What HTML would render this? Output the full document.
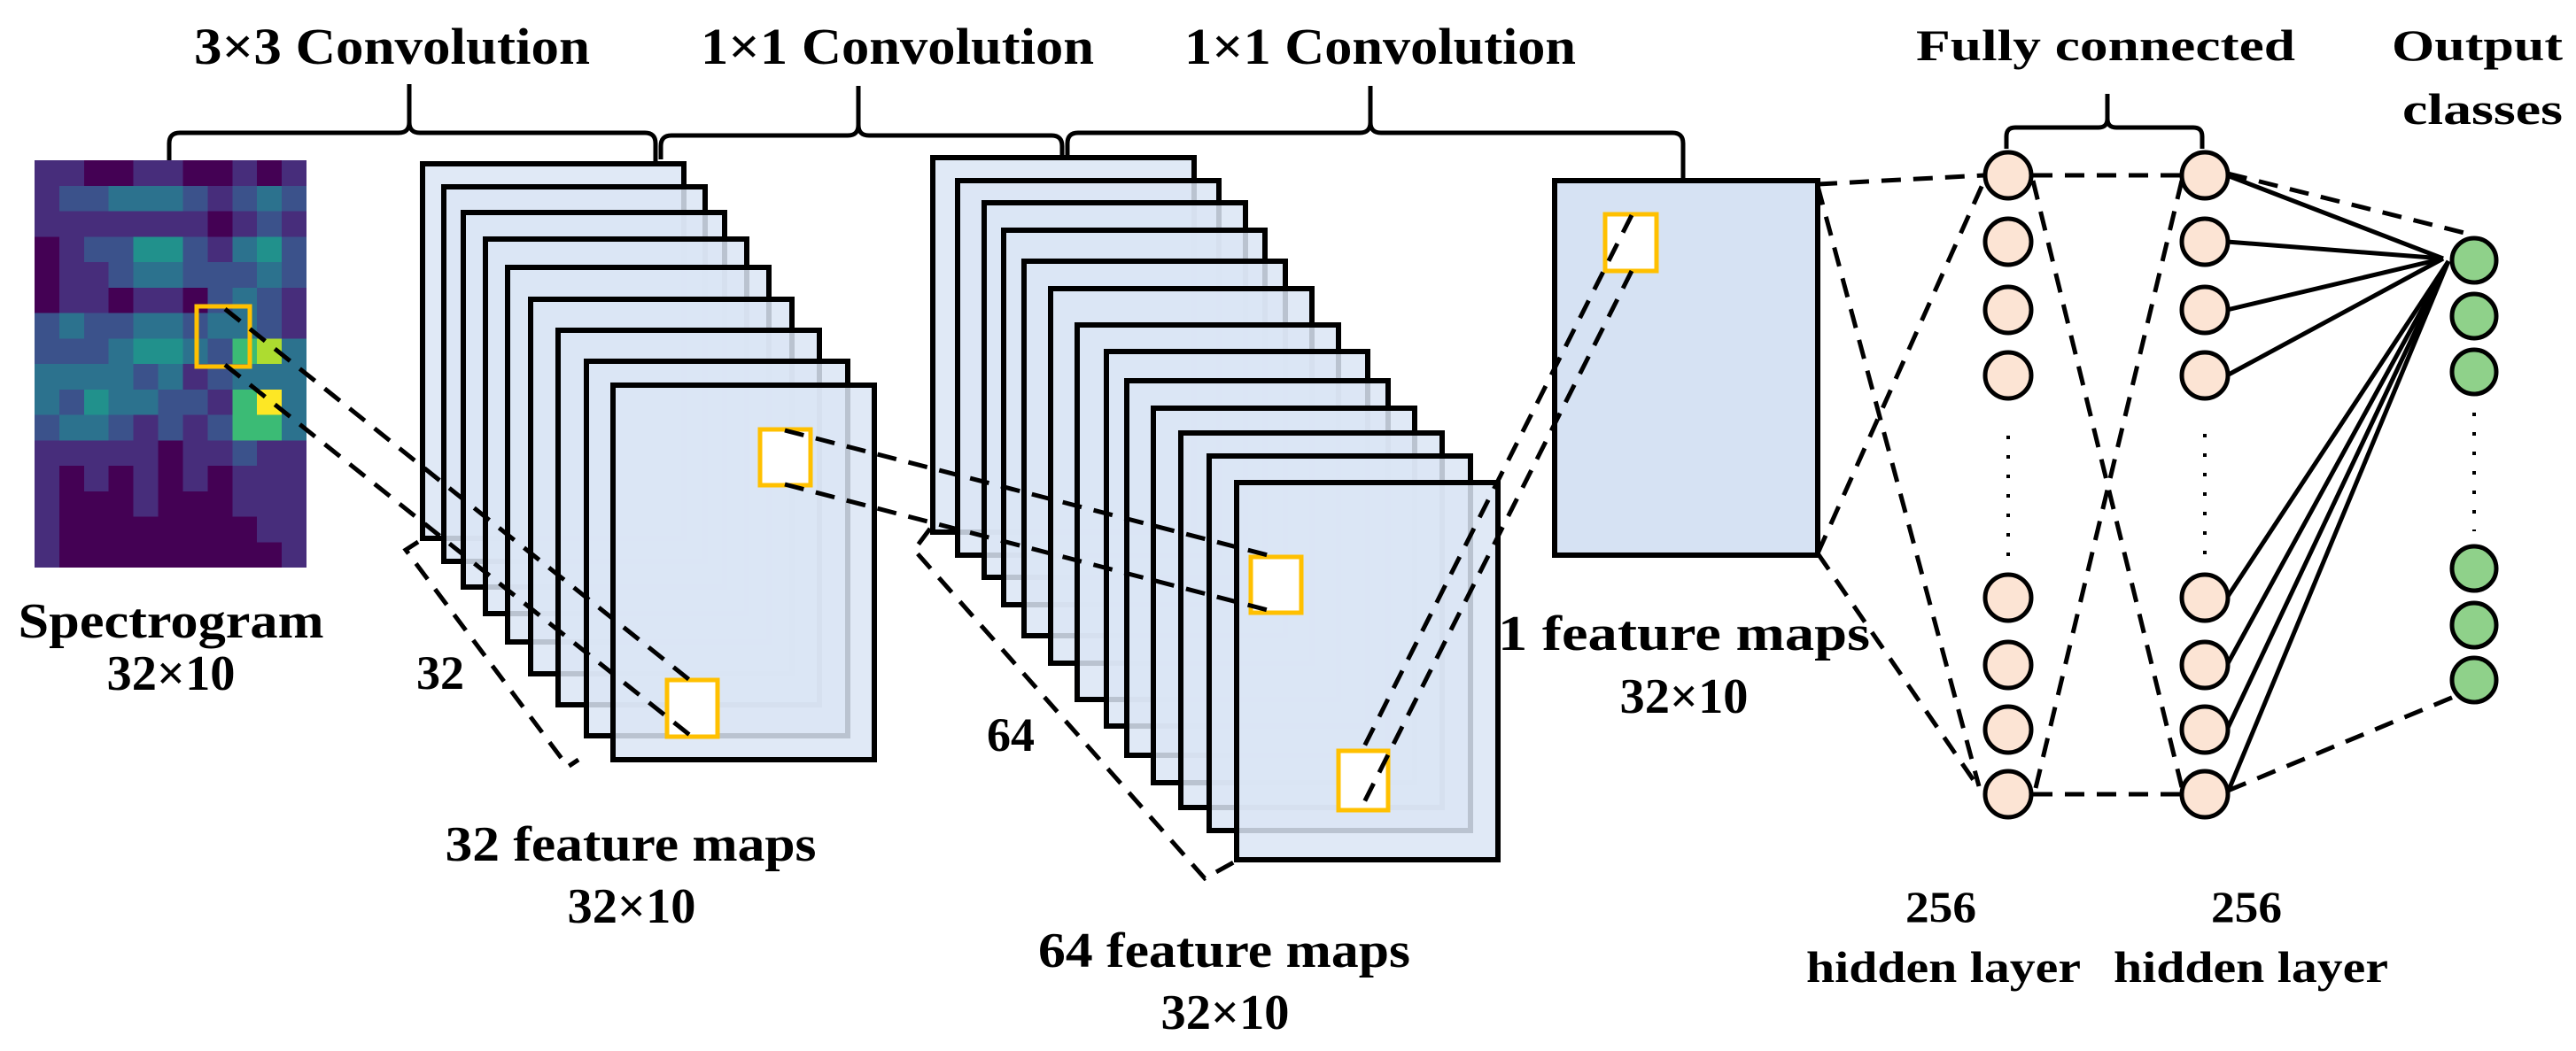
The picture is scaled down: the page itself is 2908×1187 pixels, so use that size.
<!DOCTYPE html>
<html><head><meta charset="utf-8">
<style>html,body{margin:0;padding:0;background:#fff}svg{display:block}
text{font-family:"Liberation Serif",serif;font-weight:bold;fill:#000}</style></head>
<body>
<svg width="2908" height="1187" viewBox="0 0 2908 1187" xmlns="http://www.w3.org/2000/svg">
<!-- titles -->
<text x="219" y="72" font-size="58" textLength="447" lengthAdjust="spacingAndGlyphs">3×3 Convolution</text>
<text x="791" y="72" font-size="58" textLength="444" lengthAdjust="spacingAndGlyphs">1×1 Convolution</text>
<text x="1337" y="72" font-size="58" textLength="442" lengthAdjust="spacingAndGlyphs">1×1 Convolution</text>
<text x="2163" y="68" font-size="50" textLength="428" lengthAdjust="spacingAndGlyphs">Fully connected</text>
<text x="2700" y="68" font-size="50" textLength="193" lengthAdjust="spacingAndGlyphs">Output</text>
<text x="2712" y="140" font-size="50" textLength="181" lengthAdjust="spacingAndGlyphs">classes</text>

<!-- braces -->
<g fill="none" stroke="#000" stroke-width="5">
<path d="M191,182 L191,162 Q191,150 203,150 L450,150 Q462,150 462,138 L462,95 L462,138 Q462,150 474,150 L728,150 Q740,150 740,162 L740,183"/>
<path d="M746,180 L746,165 Q746,153 758,153 L957,153 Q969,153 969,141 L969,97 L969,141 Q969,153 981,153 L1187,153 Q1199,153 1199,165 L1199,178"/>
<path d="M1205,178 L1205,162 Q1205,150 1217,150 L1535,150 Q1547,150 1547,138 L1547,97 L1547,138 Q1547,150 1559,150 L1888,150 Q1900,150 1900,162 L1900,204"/>
<path d="M2265,168 L2265,154 Q2265,144 2275,144 L2369,144 Q2379,144 2379,134 L2379,106 L2379,134 Q2379,144 2389,144 L2476,144 Q2486,144 2486,154 L2486,168"/>
</g>

<!-- spectrogram -->
<svg x="39" y="181" width="307" height="460" viewBox="0 0 11 16" preserveAspectRatio="none" shape-rendering="crispEdges">
<style>.a{fill:#440154}.c{fill:#3b528b}.d{fill:#2c728e}.e{fill:#21918c}.f{fill:#3bbb75}.g{fill:#addc30}.h{fill:#fde725}</style>
<rect width="11" height="16" fill="#472d7b"/>
<rect class="a" x="2" y="0" width="2" height="1"/><rect class="a" x="6" y="0" width="2" height="1"/><rect class="a" x="9" y="0" width="1" height="1"/>
<rect class="c" x="1" y="1" width="2" height="1"/><rect class="d" x="3" y="1" width="3" height="1"/><rect class="c" x="6" y="1" width="1" height="1"/><rect class="c" x="8" y="1" width="1" height="1"/><rect class="d" x="9" y="1" width="1" height="1"/><rect class="c" x="10" y="1" width="1" height="1"/>
<rect class="a" x="7" y="2" width="1" height="1"/><rect class="c" x="9" y="2" width="1" height="1"/>
<rect class="a" x="0" y="3" width="1" height="3"/><rect class="c" x="2" y="3" width="2" height="1"/><rect class="e" x="4" y="3" width="2" height="1"/><rect class="c" x="6" y="3" width="1" height="1"/><rect class="d" x="8" y="3" width="1" height="1"/><rect class="e" x="9" y="3" width="1" height="1"/><rect class="c" x="10" y="3" width="1" height="1"/>
<rect class="c" x="3" y="4" width="1" height="1"/><rect class="d" x="4" y="4" width="2" height="1"/><rect class="c" x="6" y="4" width="3" height="1"/><rect class="d" x="9" y="4" width="1" height="1"/><rect class="c" x="10" y="4" width="1" height="1"/>
<rect class="a" x="3" y="5" width="1" height="1"/><rect class="a" x="6" y="5" width="1" height="1"/><rect class="c" x="7" y="5" width="1" height="1"/><rect class="d" x="8" y="5" width="1" height="1"/><rect class="c" x="9" y="5" width="1" height="1"/>
<rect class="c" x="0" y="6" width="1" height="1"/><rect class="d" x="1" y="6" width="1" height="1"/><rect class="c" x="2" y="6" width="2" height="1"/><rect class="d" x="4" y="6" width="2" height="1"/><rect class="c" x="6" y="6" width="1" height="1"/><rect class="d" x="7" y="6" width="2" height="1"/><rect class="c" x="9" y="6" width="1" height="1"/>
<rect class="c" x="0" y="7" width="3" height="1"/><rect class="d" x="3" y="7" width="1" height="1"/><rect class="e" x="4" y="7" width="2" height="1"/><rect class="d" x="6" y="7" width="1" height="1"/><rect class="c" x="7" y="7" width="1" height="1"/><rect class="f" x="8" y="7" width="1" height="1"/><rect class="g" x="9" y="7" width="1" height="1"/><rect class="d" x="10" y="7" width="1" height="1"/>
<rect class="d" x="0" y="8" width="4" height="1"/><rect class="c" x="4" y="8" width="1" height="1"/><rect class="d" x="5" y="8" width="1" height="1"/><rect class="c" x="7" y="8" width="1" height="1"/><rect class="d" x="8" y="8" width="3" height="1"/>
<rect class="d" x="0" y="9" width="1" height="1"/><rect class="c" x="1" y="9" width="1" height="1"/><rect class="e" x="2" y="9" width="1" height="1"/><rect class="d" x="3" y="9" width="2" height="1"/><rect class="c" x="5" y="9" width="2" height="1"/><rect class="f" x="8" y="9" width="1" height="1"/><rect class="h" x="9" y="9" width="1" height="1"/><rect class="d" x="10" y="9" width="1" height="1"/>
<rect class="c" x="0" y="10" width="1" height="1"/><rect class="d" x="1" y="10" width="2" height="1"/><rect class="c" x="3" y="10" width="1" height="1"/><rect class="c" x="5" y="10" width="1" height="1"/><rect class="c" x="7" y="10" width="1" height="1"/><rect class="f" x="8" y="10" width="2" height="1"/><rect class="d" x="10" y="10" width="1" height="1"/>
<rect class="a" x="5" y="11" width="1" height="1"/><rect class="c" x="8" y="11" width="1" height="1"/>
<rect class="a" x="1" y="12" width="1" height="1"/><rect class="a" x="3" y="12" width="1" height="1"/><rect class="a" x="5" y="12" width="1" height="1"/><rect class="a" x="7" y="12" width="1" height="1"/>
<rect class="a" x="1" y="13" width="3" height="1"/><rect class="a" x="5" y="13" width="3" height="1"/>
<rect class="a" x="1" y="14" width="8" height="1"/>
<rect class="a" x="1" y="15" width="9" height="1"/>
</svg>
<rect x="222" y="346" width="60" height="68" fill="none" stroke="#ffc000" stroke-width="5"/>

<!-- stack 1 -->
<g fill="#dbe5f4" fill-opacity="0.85" stroke="#000" stroke-width="6">
<rect x="477" y="185" width="295" height="423"/>
<rect x="501" y="211" width="295" height="423"/>
<rect x="523" y="240" width="295" height="423"/>
<rect x="548" y="270" width="295" height="423"/>
<rect x="573" y="302" width="295" height="423"/>
<rect x="599" y="338" width="295" height="423"/>
<rect x="630" y="373" width="295" height="423"/>
<rect x="662" y="408" width="295" height="423"/>
<rect x="692" y="435" width="295" height="423"/>
</g>
<rect x="858" y="485" width="57" height="63" fill="#fff" stroke="#ffc000" stroke-width="5"/>
<rect x="753" y="768" width="57" height="64" fill="#fff" stroke="#ffc000" stroke-width="5"/>
<g fill="none" stroke="#000" stroke-width="5" stroke-dasharray="22,14">
<line x1="254" y1="349" x2="781" y2="770"/>
<line x1="254" y1="412" x2="781" y2="832"/>
<polyline points="472,612 458,621 641,866 653,858"/>
</g>
<text x="470" y="778" font-size="54">32</text>

<!-- stack 2 -->
<g fill="#dbe5f4" fill-opacity="0.85" stroke="#000" stroke-width="6">
<rect x="1053" y="178" width="295" height="423"/>
<rect x="1081" y="204" width="295" height="423"/>
<rect x="1111" y="229" width="295" height="423"/>
<rect x="1133" y="260" width="295" height="423"/>
<rect x="1156" y="295" width="295" height="423"/>
<rect x="1186" y="326" width="295" height="423"/>
<rect x="1216" y="367" width="295" height="423"/>
<rect x="1249" y="397" width="295" height="423"/>
<rect x="1272" y="430" width="295" height="423"/>
<rect x="1302" y="461" width="295" height="423"/>
<rect x="1333" y="489" width="295" height="423"/>
<rect x="1365" y="515" width="295" height="423"/>
<rect x="1396" y="545" width="295" height="426"/>
</g>
<rect x="1412" y="629" width="57" height="63" fill="#fff" stroke="#ffc000" stroke-width="5"/>
<rect x="1511" y="848" width="56" height="67" fill="#fff" stroke="#ffc000" stroke-width="5"/>
<g fill="none" stroke="#000" stroke-width="5" stroke-dasharray="22,14">
<line x1="886" y1="486" x2="1435" y2="628"/>
<line x1="886" y1="547" x2="1435" y2="690"/>
<polyline points="1050,597 1032,621 1360,992 1396,972"/>
</g>
<text x="1114" y="848" font-size="54" textLength="54" lengthAdjust="spacingAndGlyphs">64</text>

<!-- single map -->
<rect x="1755" y="204" width="297" height="423" fill="#d6e2f3" stroke="#000" stroke-width="6"/>
<rect x="1812" y="242" width="58" height="64" fill="#fff" stroke="#ffc000" stroke-width="5"/>
<g fill="none" stroke="#000" stroke-width="5" stroke-dasharray="22,14">
<line x1="1842" y1="243" x2="1537" y2="849"/>
<line x1="1842" y1="306" x2="1537" y2="912"/>
</g>

<!-- labels -->
<text x="193" y="720" font-size="56" text-anchor="middle" textLength="345" lengthAdjust="spacingAndGlyphs">Spectrogram</text>
<text x="193" y="779" font-size="56" text-anchor="middle" textLength="145" lengthAdjust="spacingAndGlyphs">32×10</text>
<text x="712" y="972" font-size="56" textLength="419" lengthAdjust="spacingAndGlyphs" text-anchor="middle">32 feature maps</text>
<text x="713" y="1042" font-size="56" textLength="145" lengthAdjust="spacingAndGlyphs" text-anchor="middle">32×10</text>
<text x="1382" y="1092" font-size="56" textLength="420" lengthAdjust="spacingAndGlyphs" text-anchor="middle">64 feature maps</text>
<text x="1383" y="1162" font-size="56" textLength="145" lengthAdjust="spacingAndGlyphs" text-anchor="middle">32×10</text>
<text x="1901" y="734" font-size="56" textLength="420" lengthAdjust="spacingAndGlyphs" text-anchor="middle">1 feature maps</text>
<text x="1901" y="805" font-size="56" textLength="145" lengthAdjust="spacingAndGlyphs" text-anchor="middle">32×10</text>
<text x="2191" y="1041" font-size="50" textLength="80" lengthAdjust="spacingAndGlyphs" text-anchor="middle">256</text>
<text x="2194" y="1109" font-size="50" textLength="310" lengthAdjust="spacingAndGlyphs" text-anchor="middle">hidden layer</text>
<text x="2536" y="1041" font-size="50" textLength="80" lengthAdjust="spacingAndGlyphs" text-anchor="middle">256</text>
<text x="2541" y="1109" font-size="50" textLength="310" lengthAdjust="spacingAndGlyphs" text-anchor="middle">hidden layer</text>

<!-- FC connectors -->
<g fill="none" stroke="#000" stroke-width="5" stroke-dasharray="22,14">
<line x1="2052" y1="208" x2="2240" y2="198"/>
<line x1="2052" y1="210" x2="2234" y2="888"/>
<line x1="2052" y1="625" x2="2240" y2="204"/>
<line x1="2052" y1="625" x2="2234" y2="890"/>
<line x1="2295" y1="198" x2="2463" y2="198"/>
<line x1="2295" y1="204" x2="2463" y2="889"/>
<line x1="2295" y1="897" x2="2463" y2="897"/>
<line x1="2298" y1="890" x2="2463" y2="204"/>
<line x1="2515" y1="196" x2="2790" y2="265"/>
<line x1="2515" y1="893" x2="2770" y2="787"/>
</g>
<g stroke="#000" stroke-width="5">
<line x1="2514" y1="198" x2="2758" y2="292"/>
<line x1="2514" y1="273" x2="2758" y2="292"/>
<line x1="2514" y1="350" x2="2758" y2="292"/>
<line x1="2514" y1="424" x2="2758" y2="292"/>
<line x1="2514" y1="675" x2="2764" y2="295"/>
<line x1="2514" y1="751" x2="2764" y2="295"/>
<line x1="2514" y1="824" x2="2764" y2="295"/>
<line x1="2514" y1="897" x2="2764" y2="295"/>
</g>
<g fill="#fce4d4" stroke="#000" stroke-width="5">
<circle cx="2267" cy="198" r="26"/><circle cx="2267" cy="273" r="26"/><circle cx="2267" cy="350" r="26"/><circle cx="2267" cy="424" r="26"/>
<circle cx="2267" cy="675" r="26"/><circle cx="2267" cy="751" r="26"/><circle cx="2267" cy="824" r="26"/><circle cx="2267" cy="897" r="26"/>
<circle cx="2489" cy="198" r="26"/><circle cx="2489" cy="273" r="26"/><circle cx="2489" cy="350" r="26"/><circle cx="2489" cy="424" r="26"/>
<circle cx="2489" cy="675" r="26"/><circle cx="2489" cy="751" r="26"/><circle cx="2489" cy="824" r="26"/><circle cx="2489" cy="897" r="26"/>
</g>
<g fill="#8fd18a" stroke="#000" stroke-width="5">
<circle cx="2793" cy="294" r="25"/><circle cx="2793" cy="357" r="25"/><circle cx="2793" cy="420" r="25"/>
<circle cx="2793" cy="642" r="25"/><circle cx="2793" cy="706" r="25"/><circle cx="2793" cy="768" r="25"/>
</g>
<g fill="none" stroke="#000" stroke-width="4" stroke-dasharray="4,18">
<line x1="2267" y1="492" x2="2267" y2="628"/>
<line x1="2489" y1="490" x2="2489" y2="626"/>
<line x1="2793" y1="466" x2="2793" y2="600"/>
</g>
</svg>
</body></html>
